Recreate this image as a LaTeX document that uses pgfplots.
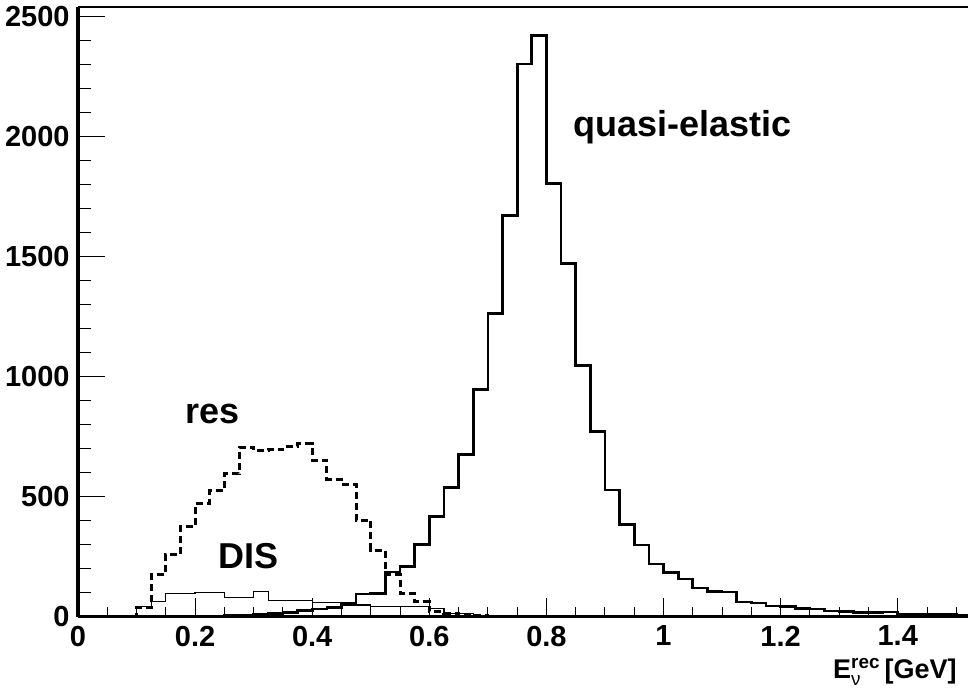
\documentclass[border=0pt]{standalone}
\usepackage{fontspec}
\setmainfont{Liberation Sans}
\usepackage{amsmath}
\usepackage{pgfplots}
\usepackage{pgfplotstable}
\pgfplotsset{compat=1.18}

% bin left edge, entries (bins of 0.025 GeV)
\pgfplotstableread{
x y
0 0
0.25 3
0.275 6
0.3 9
0.325 13
0.35 17
0.375 24
0.4 31
0.425 38
0.45 55
0.475 94
0.5 96
0.525 185
0.55 208
0.575 301
0.6 416
0.625 537
0.65 676
0.675 945
0.7 1263
0.725 1672
0.75 2302
0.775 2420
0.8 1803
0.825 1470
0.85 1045
0.875 770
0.9 527
0.925 384
0.95 298
0.975 219
1.0 182
1.025 156
1.05 119
1.075 104
1.1 102
1.125 60
1.15 56
1.175 44
1.2 41
1.225 33
1.25 31
1.275 23
1.3 22
1.325 16
1.35 17
1.375 19
1.4 8
1.425 8
1.45 7
1.475 7
1.5 6
1.525 6
}\qe

\pgfplotstableread{
x y
0 0
0.1 37
0.125 177
0.15 259
0.175 377
0.2 469
0.225 524
0.25 594
0.275 705
0.3 690
0.325 697
0.35 709
0.375 719
0.4 652
0.425 572
0.45 552
0.475 402
0.5 277
0.525 175
0.55 96
0.575 62
0.6 20
0.625 12
0.65 6
0.675 3
0.7 2
0.725 2
0.75 1
0.775 0
1.525 0
}\res

\pgfplotstableread{
x y
0 0
0.1 41
0.125 62
0.15 97
0.175 97
0.2 100
0.225 100
0.25 80
0.275 80
0.3 103
0.325 66
0.35 66
0.375 66
0.4 57
0.425 57
0.45 48
0.475 48
0.5 41
0.525 41
0.55 41
0.575 41
0.6 34
0.625 13
0.65 13
0.675 4
0.7 3
0.725 3
0.75 2
0.775 1
0.8 0
1.525 0
}\dis

\pgfplotsset{
  rootframe/.style={
    scale only axis,
    width=445pt, height=304.8pt,
    xmin=0, xmax=1.52,
    ymin=0, ymax=2540,
    axis line style={line width=1.6pt, black},
    tick style={line width=0.5pt, black},
  },
}

\begin{document}
\begin{tikzpicture}
\begin{axis}[
    rootframe,
    axis x line*=bottom,
    axis y line=none,
    tick align=inside,
    major tick length=9pt,
    minor tick length=4.5pt,
    xtick={0,0.2,0.4,0.6,0.8,1,1.2,1.4},
    xticklabels={0,0.2,0.4,0.6,0.8,1,1.2,1.4},
    minor xtick={0.05,0.1,0.15,0.25,0.3,0.35,0.45,0.5,0.55,0.65,0.7,0.75,0.85,0.9,0.95,1.05,1.1,1.15,1.25,1.3,1.35,1.45,1.5},
    xticklabel style={font=\bfseries\fontsize{14.5}{14.5}\selectfont, inner sep=0pt, yshift=-4.5pt},
  ]
  \addplot[const plot, line width=1.35pt, black] table {\qe};
  \addplot[const plot, line width=1.5pt, black, dash pattern=on 3.5pt off 2pt] table {\res};
  \addplot[const plot, line width=0.65pt, black] table {\dis};

  \node[anchor=base west, inner sep=0pt, font=\bfseries\fontsize{18}{18}\selectfont] at (axis cs:0.845,2000) {quasi-elastic};
  \node[anchor=base west, inner sep=0pt, font=\bfseries\fontsize{18}{18}\selectfont] at (axis cs:0.1835,805) {res};
  \node[anchor=base west, inner sep=0pt, font=\bfseries\fontsize{18}{18}\selectfont] at (axis cs:0.24,198) {DIS};
\end{axis}

\begin{axis}[
    rootframe,
    clip=false,
    axis y line*=left,
    hide x axis,
    tick align=inside,
    major tick length=13.5pt,
    minor tick length=6.5pt,
    ytick={0,500,1000,1500,2000,2500},
    yticklabels={0,500,1000,1500,2000,2500},
    minor ytick={100,200,300,400,600,700,800,900,1100,1200,1300,1400,1600,1700,1800,1900,2100,2200,2300,2400},
    yticklabel style={font=\bfseries\fontsize{14.5}{14.5}\selectfont, inner sep=0pt, xshift=-4pt},
  ]
  \draw[line width=1pt, black] (rel axis cs:0,1) -- (rel axis cs:1,1);
  \node[anchor=base east, inner sep=0pt, font=\bfseries\fontsize{13.5}{13.5}\selectfont]
    at ([xshift=-5.5pt, yshift=-31pt]rel axis cs:1,0)
    {E$_{\text{\mdseries ν}}^{\text{rec}}$\hspace{0.15em}[GeV]};
\end{axis}

\pgfresetboundingbox
\useasboundingbox (-39pt,-36.75pt) rectangle (445pt,308.25pt);
\end{tikzpicture}
\end{document}
